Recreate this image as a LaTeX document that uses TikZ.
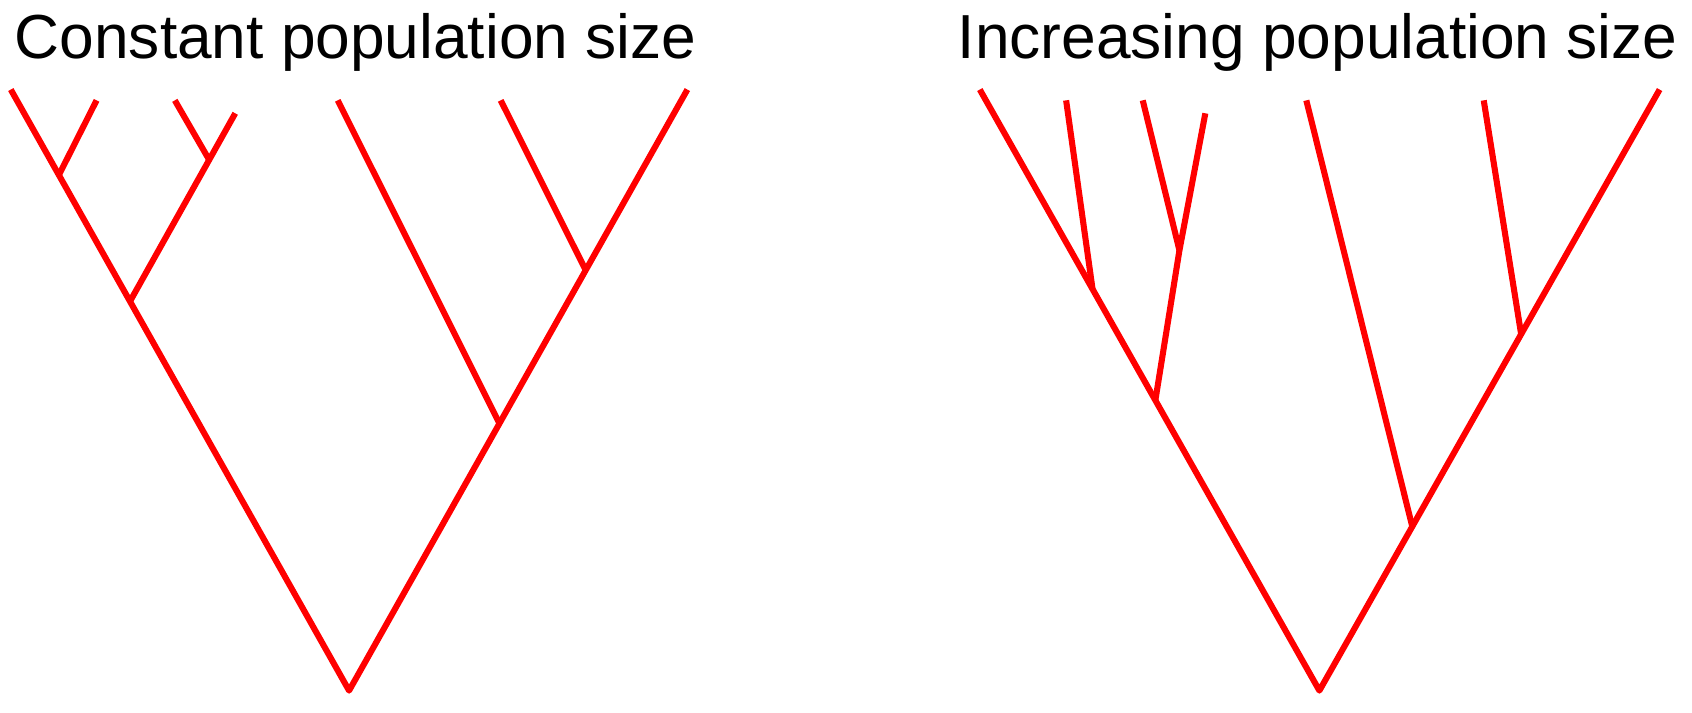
\documentclass[tikz,border=0pt]{standalone}
\usepackage{fontspec}
\setmainfont{Liberation Sans}
\usetikzlibrary{calc}
\definecolor{treered}{RGB}{255,0,0}

\begin{document}
\begin{tikzpicture}[
  x=0.01cm, y=-0.01cm,
  branch/.style = {draw=treered, line width=1.6pt, line join=round},
  title/.style  = {anchor=base west, inner sep=0pt, font=\fontsize{16.4}{19}\selectfont}
]
\useasboundingbox (0,0) rectangle (1568,660);
\node[title] (ltitle) at (13,54)  {Constant population size};
\node[title] (rtitle) at (887,54) {Increasing population size};
%% ---- constant ----
\coordinate (lroot) at (323.5,640);
\coordinate (l1) at (10,83);   \coordinate (l2) at (89.5,93); \coordinate (l3) at (162,93);
\coordinate (l4) at (218,105); \coordinate (l5) at (313,93);  \coordinate (l6) at (464,93);
\coordinate (l7) at (637,83);
\coordinate (la) at ($(lroot)!0.8578!(l1)$);
\coordinate (lb) at ($(lroot)!0.6476!(l1)$);
\coordinate (lc) at ($(lroot)!0.4445!(l7)$);
\coordinate (ld) at ($(lroot)!0.6995!(l7)$);
\coordinate (lbb) at ($(lb)!0.7525!(l4)$);
\draw[branch] (l1) -- (lroot) -- (l7);
\draw[branch] (la) -- (l2); \draw[branch] (lb) -- (l4); \draw[branch] (lbb) -- (l3);
\draw[branch] (lc) -- (l5); \draw[branch] (ld) -- (l6);
%% ---- increasing ----
\coordinate (rroot) at (1222.7,640);
\coordinate (r1) at (908,83);   \coordinate (r2) at (988,93);    \coordinate (r3) at (1059,93);
\coordinate (r4) at (1117,105); \coordinate (r5) at (1210.6,93); \coordinate (r6) at (1375,93);
\coordinate (r7) at (1538,83);
\coordinate (re) at ($(rroot)!0.668!(r1)$);
\coordinate (rf) at ($(rroot)!0.483!(r1)$);
\coordinate (rg) at ($(rroot)!0.273!(r7)$);
\coordinate (rh) at ($(rroot)!0.593!(r7)$);
\coordinate (rff) at (1093,232);
\draw[branch] (r1) -- (rroot) -- (r7);
\draw[branch] (re) -- (r2); \draw[branch] (rf) -- (rff) -- (r4); \draw[branch] (rff) -- (r3);
\draw[branch] (rg) -- (r5); \draw[branch] (rh) -- (r6);
\end{tikzpicture}
\end{document}
